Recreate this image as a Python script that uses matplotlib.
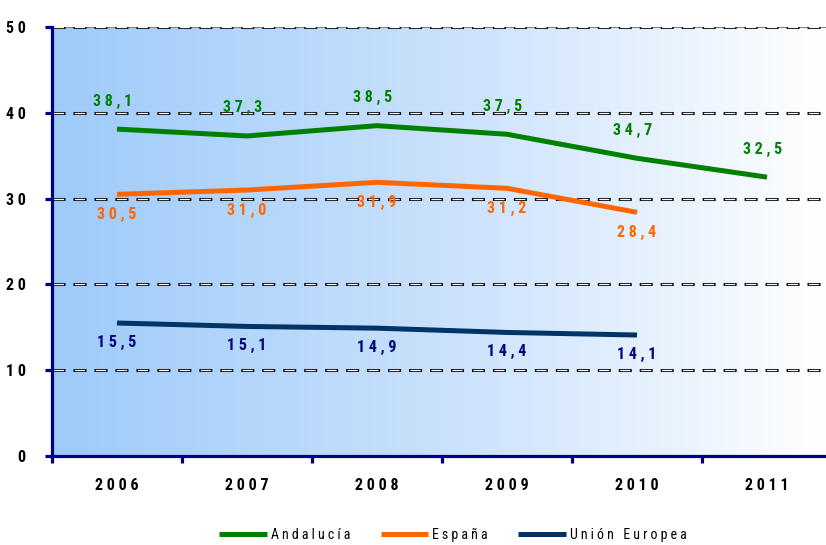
import numpy as np
import matplotlib
matplotlib.use("Agg")
import matplotlib.pyplot as plt
from matplotlib.colors import LinearSegmentedColormap
from matplotlib import font_manager

# ---- data ----
years = ["2006", "2007", "2008", "2009", "2010", "2011"]
andalucia = [38.1, 37.3, 38.5, 37.5, 34.7, 32.5]
espana = [30.5, 31.0, 31.9, 31.2, 28.4]
ue = [15.5, 15.1, 14.9, 14.4, 14.1]
series_names = ["Andalucía", "España", "Unión Europea"]
y_ticks = [0, 10, 20, 30, 40, 50]

names = {f.name for f in font_manager.fontManager.ttflist}
FONT = [n for n in ["Roboto Condensed", "Liberation Sans Narrow", "DejaVu Sans Condensed"]
        if n in names] + ["Liberation Sans", "DejaVu Sans"]
plt.rcParams["font.family"] = FONT
plt.rcParams["font.stretch"] = "condensed"
plt.rcParams["lines.scale_dashes"] = False

def spaced(s):
    return " ".join(list(s))

def fmt(v):
    return spaced(f"{v:.1f}".replace(".", ","))

fig = plt.figure(figsize=(8.26, 5.45), dpi=100)
W, H = 826, 545
ax = fig.add_axes([52 / W, 89 / H, (832 - 52) / W, (456 - 27) / H])

x_and = np.arange(len(andalucia))
x_esp = np.arange(len(espana))
x_ue = np.arange(len(ue))

ax.set_xlim(-0.5, len(years) - 0.5)
ax.set_ylim(0, 50)

cmap = LinearSegmentedColormap.from_list("bg", ["#9ecbfa", "#c9e1fc", "#ffffff"])
grad = np.linspace(0, 1, 256).reshape(1, -1)
ax.imshow(grad, cmap=cmap, aspect="auto", extent=[-0.5, len(years) - 0.5, 0, 50],
          zorder=0, interpolation="bilinear")

period = 21 * 0.72
for yv in y_ticks[1:]:
    if yv == 50:
        ax.axhline(yv, color="#808080", lw=1.5, zorder=1)
    ax.axhline(yv, color="#111111", lw=2.2, zorder=1.5,
               linestyle=(0, (9.4, 5.7)))
    ax.axhline(yv, color="#f4f8ff", lw=0.9, zorder=1.6,
               linestyle=(period - 1.1, (7.2, 7.9)))

lw = 3.6
c_and, c_esp, c_ue = "#008000", "#ff6600", "#003366"
ax.plot(x_and, andalucia, color=c_and, lw=lw, solid_capstyle="butt", zorder=3, label=spaced(series_names[0]))
ax.plot(x_esp, espana, color=c_esp, lw=lw, solid_capstyle="butt", zorder=3, label=spaced(series_names[1]))
ax.plot(x_ue, ue, color=c_ue, lw=lw, solid_capstyle="butt", zorder=3, label=spaced(series_names[2]))

lab_kw = dict(textcoords="offset pixels", ha="center", va="center",
              fontsize=11.5, fontweight="bold", zorder=4)
for xi, v in zip(x_and, andalucia):
    ax.annotate(fmt(v), (xi, v), xytext=(-4, 28), color="#008000", **lab_kw)
for xi, v in zip(x_esp, espana):
    ax.annotate(fmt(v), (xi, v), xytext=(0, -20), color="#ff6600", **lab_kw)
for xi, v in zip(x_ue, ue):
    ax.annotate(fmt(v), (xi, v), xytext=(0, -19), color="#000080", **lab_kw)

for s in ["top", "right"]:
    ax.spines[s].set_visible(False)
for s in ["left", "bottom"]:
    ax.spines[s].set_color("#000080")
    ax.spines[s].set_linewidth(2.3)
    ax.spines[s].set_zorder(5)

ax.set_yticks(y_ticks)
ax.set_yticklabels([spaced(str(v)) for v in y_ticks])
ax.tick_params(axis="y", length=5, width=2.3, color="#000080", pad=14,
               labelsize=11.5)
for t in ax.get_yticklabels():
    t.set_fontweight("bold")

ax.set_xticks(np.arange(len(years)))
ax.set_xticklabels([spaced(y) for y in years])
ax.set_xticks(np.arange(len(years) + 1) - 0.5, minor=True)
ax.tick_params(axis="x", which="major", length=0, pad=16, labelsize=11.5)
ax.tick_params(axis="x", which="minor", length=5, width=2.3, color="#000080")
for t in ax.get_xticklabels():
    t.set_fontweight("bold")

leg = fig.legend(loc="center", bbox_to_anchor=(453 / W, 10 / H), ncol=3,
                 frameon=False, fontsize=10, handlelength=3.4,
                 handletextpad=0.3, columnspacing=2.2)

fig.savefig("out.png", dpi=100)
